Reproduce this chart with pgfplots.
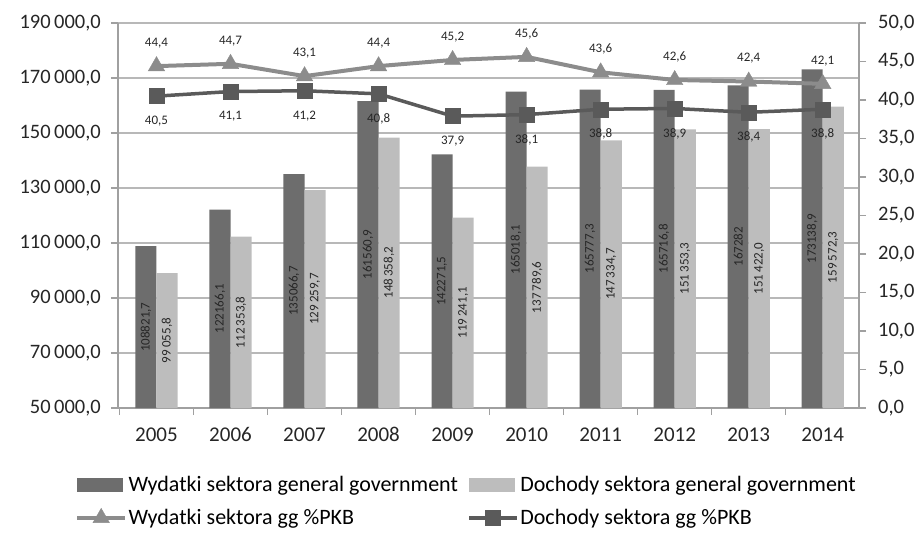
\documentclass[border=0pt]{standalone}
\usepackage{fontspec}
\setmainfont{Carlito}
\usepackage{pgfplots}
\usepackage{pgfplotstable}
\pgfplotsset{compat=1.18}
\definecolor{darkbar}{HTML}{6D6D6D}
\definecolor{lightbar}{HTML}{BDBDBD}
\definecolor{triline}{HTML}{8C8C8C}
\definecolor{sqline}{HTML}{5A5A5A}
\definecolor{gridc}{HTML}{B8B8B8}
\definecolor{axc}{HTML}{A0A0A0}
\newcommand{\bigf}{\fontsize{21}{25}\selectfont}
\newcommand{\ytf}{\fontsize{20.5}{24}\selectfont}
\newcommand{\legf}{\fontsize{22}{26}\selectfont}
\newcommand{\smallf}{\fontsize{13}{15}\selectfont}
\pgfplotsset{mylinelegend/.style={legend image code/.code={\draw[##1, mark repeat=2, mark phase=2] plot coordinates {(0pt,0pt) (24pt,0pt) (48pt,0pt)};}}}
\pgfplotstableread{
i wyd wydl doch dochl wp dp
0 108821.7 108821,7 99055.8 99\,055,8 44.4 40.5
1 122166.1 122166,1 112353.8 112\,353,8 44.7 41.1
2 135066.7 135066,7 129259.7 129\,259,7 43.1 41.2
3 161560.9 161560,9 148358.2 148\,358,2 44.4 40.8
4 142271.5 142271,5 119241.1 119\,241,1 45.2 37.9
5 165018.1 165018,1 137789.6 137\,789,6 45.6 38.1
6 165777.3 165777,3 147334.7 147\,334,7 43.6 38.8
7 165716.8 165716,8 151353.3 151\,353,3 42.6 38.9
8 167282.0 167282 151422.0 151\,422,0 42.4 38.4
9 173138.9 173138,9 159572.3 159\,572,3 42.1 38.8
}\data
\begin{document}
\begin{tikzpicture}
\path[use as bounding box] (-118pt,-125pt) rectangle (804pt,408pt);
\pgfplotsset{
  common/.style={
    scale only axis, width=741pt, height=385pt, at={(0,0)}, anchor=south west,
    xmin=-0.52, xmax=9.49,
    /pgf/number format/assume math mode=true,
    tick label style={font=\bigf, text=black!85},
    axis line style={axc, line width=1.2pt},
    tick style={axc, line width=1.2pt},
    tick align=outside,
    major tick length=7pt,
  }
}
\begin{axis}[common,
  axis x line*=bottom, axis y line*=left,
  ymin=50000, ymax=190000, ytick={50000,70000,...,190000},
  scaled y ticks=false,
  y tick label style={font=\ytf, inner xsep=0pt, xshift=-10pt, /pgf/number format/.cd, fixed, fixed zerofill, precision=1, use comma, 1000 sep={\,}},
  xtick={-0.5,0.5,...,9.5},
  xticklabels={2005,2006,2007,2008,2009,2010,2011,2012,2013,2014,},
  x tick label style={xshift=37pt, yshift=-9pt},
  ymajorgrids, grid style={gridc, line width=1.2pt},
]
\addplot[ybar, bar width=0.285, bar shift=-0.1425, fill=darkbar, draw=none] table[x=i, y=wyd] {\data};
\addplot[ybar, bar width=0.285, bar shift=0.1425, fill=lightbar, draw=none] table[x=i, y=doch] {\data};
\addplot[draw=none, nodes near coords, point meta=explicit symbolic,
  every node near coord/.append style={rotate=90, anchor=center, font=\smallf, text=black!85}]
  table[x expr=\thisrow{i}-0.1425, y expr=(\thisrow{wyd}+50000)/2, meta=wydl] {\data};
\addplot[draw=none, nodes near coords, point meta=explicit symbolic,
  every node near coord/.append style={rotate=90, anchor=center, font=\smallf, text=black!85}]
  table[x expr=\thisrow{i}+0.1425, y expr=(\thisrow{doch}+50000)/2, meta=dochl] {\data};
\end{axis}
\begin{axis}[common,
  axis x line=none, axis y line*=right,
  ymin=0, ymax=50, ytick={0,5,...,50},
  y tick label style={font=\ytf, inner xsep=0pt, xshift=12pt, /pgf/number format/.cd, fixed, fixed zerofill, precision=1, use comma},
  clip=false,
  legend columns=2,
  legend cell align=left,
  legend style={overlay, at={(0,0)}, anchor=north west, xshift=-46pt, yshift=-65pt, draw=none, fill=none,
    font=\legf, row sep=13pt, /tikz/every even column/.append style={column sep=8pt},
    nodes={inner sep=1.5pt}},
]
\addlegendimage{legend image code/.code={\fill[darkbar] (0pt,-6.5pt) rectangle (45pt,6.5pt);}}
\addlegendentry{Wydatki sektora general government}
\addlegendimage{legend image code/.code={\fill[lightbar] (0pt,-6.5pt) rectangle (45pt,6.5pt);}}
\addlegendentry{Dochody sektora general government}
\addplot[triline, line width=4pt, mark=triangle*, mark size=9.5pt,
  mark options={fill=triline, draw=triline, line width=0.4pt},
  nodes near coords={\pgfmathprintnumber[fixed,fixed zerofill,precision=1,use comma,assume math mode=true]{\pgfplotspointmeta}},
  point meta=y,
  every node near coord/.append style={anchor=center, yshift=23pt, font=\smallf, text=black!85},
  mylinelegend]
  table[x=i, y=wp] {\data};
\addlegendentry{Wydatki sektora gg \%PKB}
\addplot[sqline, line width=3.5pt, mark=square*, mark size=7.5pt,
  mark options={fill=sqline, draw=sqline, line width=0.4pt},
  nodes near coords={\pgfmathprintnumber[fixed,fixed zerofill,precision=1,use comma,assume math mode=true]{\pgfplotspointmeta}},
  point meta=y,
  every node near coord/.append style={anchor=center, yshift=-25pt, font=\smallf, text=black!85},
  mylinelegend]
  table[x=i, y=dp] {\data};
\addlegendentry{Dochody sektora gg \%PKB}
\end{axis}
\end{tikzpicture}
\end{document}
